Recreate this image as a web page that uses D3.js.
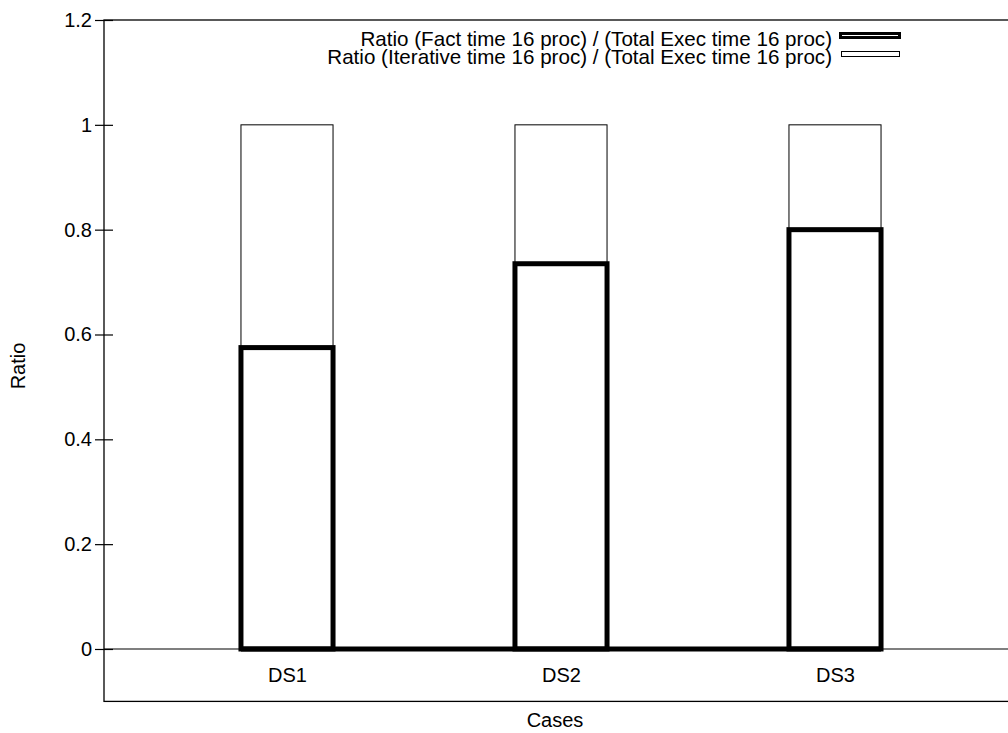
<!DOCTYPE html>
<html>
<head>
<meta charset="utf-8">
<script src="https://cdn.jsdelivr.net/npm/d3@7"></script>
<style>
  html, body { margin: 0; padding: 0; background: #fff; }
  svg { display: block; }
  text { font-family: "Liberation Sans", Arial, sans-serif; fill: #000; }
</style>
</head>
<body>
<svg id="chart" width="1008" height="733"></svg>
<script>
const categories = ["DS1", "DS2", "DS3"];
const factRatio = [0.575, 0.735, 0.80];
const iterRatio = [0.425, 0.265, 0.20];
const yTicks = [0, 0.2, 0.4, 0.6, 0.8, 1, 1.2];
const seriesNames = [
  "Ratio (Fact time 16 proc) / (Total Exec time 16 proc)",
  "Ratio (Iterative time 16 proc) / (Total Exec time 16 proc)"
];
const yLabel = "Ratio";
const xLabel = "Cases";

(function () {
const svg = d3.select("#chart");
const pLeft = 104, pTop = 20, pBottom = 701.4, pRight = 1015;
const fontSize = 20;

const y = d3.scaleLinear().domain([-0.1, 1.2]).range([pBottom, pTop]);
const x = d3.scaleLinear().domain([0, categories.length - 1]).range([287, 835]);
const halfW = 0.168;

// frame
svg.append("rect")
  .attr("x", pLeft).attr("y", pTop)
  .attr("width", pRight - pLeft).attr("height", pBottom - pTop)
  .attr("fill", "none").attr("stroke", "#000").attr("stroke-width", 1.3);

// zero line
svg.append("line")
  .attr("x1", pLeft).attr("x2", pRight)
  .attr("y1", y(0)).attr("y2", y(0))
  .attr("stroke", "#000").attr("stroke-width", 1.2);

// y axis ticks
const yAxis = d3.axisLeft(y).tickValues(yTicks).tickFormat(d3.format("~g"))
  .tickSizeInner(9).tickSizeOuter(0).tickPadding(3);
const gy = svg.append("g").attr("transform", `translate(${pLeft},0)`).call(yAxis);
gy.select(".domain").remove();
gy.selectAll(".tick line").attr("stroke", "#000").attr("stroke-width", 1.2);
gy.selectAll(".tick").append("line")
  .attr("x1", 0).attr("x2", 9).attr("stroke", "#000").attr("stroke-width", 1.2);
gy.selectAll(".tick text")
  .style("font-family", '"Liberation Sans", Arial, sans-serif')
  .style("font-size", fontSize + "px").attr("fill", "#000");

// x axis labels
const xAxis = d3.axisBottom(x).tickValues(d3.range(categories.length))
  .tickFormat(i => categories[i]).tickSize(0).tickPadding(19);
const gx = svg.append("g").attr("transform", `translate(0,${y(0)})`).call(xAxis);
gx.select(".domain").remove();
gx.selectAll(".tick text")
  .style("font-family", '"Liberation Sans", Arial, sans-serif')
  .style("font-size", fontSize + "px").attr("fill", "#000");

// iterative bars (stacked on top)
svg.selectAll("rect.iter").data(categories).enter().append("rect")
  .attr("class", "iter")
  .attr("x", (d, i) => x(i - halfW))
  .attr("width", (d, i) => x(i + halfW) - x(i - halfW))
  .attr("y", (d, i) => y(factRatio[i] + iterRatio[i]))
  .attr("height", (d, i) => y(factRatio[i]) - y(factRatio[i] + iterRatio[i]))
  .attr("fill", "#fff").attr("stroke", "#000").attr("stroke-width", 1);

// bottom thick line along zero under bars
svg.append("line")
  .attr("x1", x(0 - halfW)).attr("x2", x(categories.length - 1 + halfW))
  .attr("y1", y(0)).attr("y2", y(0))
  .attr("stroke", "#000").attr("stroke-width", 5);

// fact bars
svg.selectAll("rect.fact").data(categories).enter().append("rect")
  .attr("class", "fact")
  .attr("x", (d, i) => x(i - halfW))
  .attr("width", (d, i) => x(i + halfW) - x(i - halfW))
  .attr("y", (d, i) => y(factRatio[i]))
  .attr("height", (d, i) => y(0) - y(factRatio[i]))
  .attr("fill", "none").attr("stroke", "#000").attr("stroke-width", 5);

// legend
const legend = svg.append("g");
const legY = [46, 64];
seriesNames.forEach((name, k) => {
  legend.append("text").attr("x", 832).attr("y", legY[k])
    .attr("text-anchor", "end").style("font-size", "20.6px").text(name);
});
legend.append("rect").attr("x", 840.5).attr("y", 33.5).attr("width", 59).attr("height", 4)
  .attr("fill", "#fff").attr("stroke", "#000").attr("stroke-width", 3);
legend.append("rect").attr("x", 841.5).attr("y", 51.5).attr("width", 58).attr("height", 5)
  .attr("fill", "#fff").attr("stroke", "#000").attr("stroke-width", 1);

// axis titles
svg.append("text").attr("transform", "translate(25,366) rotate(-90)")
  .attr("text-anchor", "middle").style("font-size", fontSize + "px").text(yLabel);
svg.append("text").attr("x", 555).attr("y", 727)
  .attr("text-anchor", "middle").style("font-size", fontSize + "px").text(xLabel);
})();
</script>
</body>
</html>
